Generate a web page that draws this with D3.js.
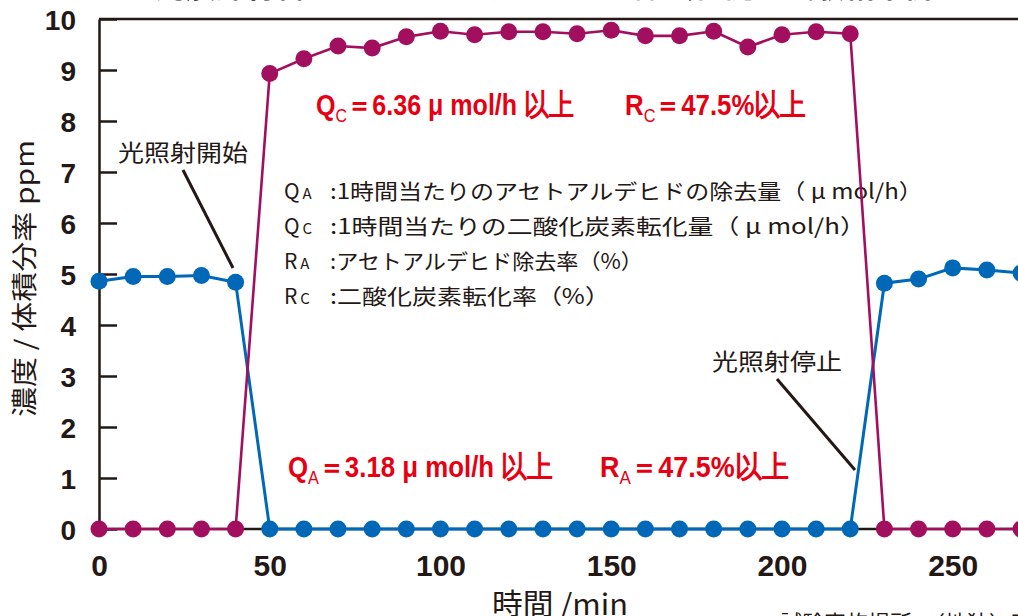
<!DOCTYPE html>
<html>
<head>
<meta charset="utf-8">
<script src="https://cdn.jsdelivr.net/npm/d3@7"></script>
<style>
  body { margin: 0; background: #fff; }
  svg { display: block; }
</style>
</head>
<body>
<svg id="chart"></svg>
<script>
// time axis (min) and the two measured series
const times = [0, 10, 20, 30, 40, 50, 60, 70, 80, 90, 100, 110, 120, 130, 140,
    150, 160, 170, 180, 190, 200, 210, 220, 230, 240, 250, 260, 270];
const acetaldehyde = [4.86, 4.95, 4.95, 4.97, 4.84,
    0, 0, 0, 0, 0, 0, 0, 0, 0, 0, 0, 0, 0, 0, 0, 0, 0, 0,
    4.82, 4.90, 5.12, 5.08, 5.02];
const co2 = [0, 0, 0, 0, 0,
    8.93, 9.22, 9.47, 9.43, 9.65, 9.76, 9.69, 9.75, 9.75, 9.71, 9.78, 9.67, 9.67,
    9.76, 9.45, 9.69, 9.75, 9.71,
    0, 0, 0, 0, 0];
const xTicks = [0, 50, 100, 150, 200, 250];
const yTicks = [0, 1, 2, 3, 4, 5, 6, 7, 8, 9, 10];

const legendRows = [
    { q: 'Q', sub: 'A', text: ':1時間当たりのアセトアルデヒドの除去量（ μ mol/h）' },
    { q: 'Q', sub: 'C', text: ':1時間当たりの二酸化炭素転化量（ μ mol/h）' },
    { q: 'R', sub: 'A', text: ':アセトアルデヒド除去率（%）' },
    { q: 'R', sub: 'C', text: ':二酸化炭素転化率（%）' }
];
const results = [
    { q: 'Q', sub: 'C', text: '＝6.36 μ mol/h 以上' },
    { q: 'R', sub: 'C', text: '＝47.5%以上' },
    { q: 'Q', sub: 'A', text: '＝3.18 μ mol/h 以上' },
    { q: 'R', sub: 'A', text: '＝47.5%以上' }
];

const width = 1018;
const height = 616;
const blue = '#0068b7';
const purple = '#a20f5e';
const red = '#e60012';
const ink = '#231815';
const jp = '"Noto Sans CJK JP", "Noto Sans", sans-serif';
const num = '"Liberation Sans", Arial, sans-serif';

const svg = d3.select('#chart')
    .attr('width', width)
    .attr('height', height);

const x = d3.scaleLinear().domain([0, 270]).range([99, 1021]);
const y = d3.scaleLinear().domain([0, 10]).range([529, 19]);

// squeeze a text group horizontally so it spans the given width
function fit(sel, left, target) {
    const w = sel.node().getBBox().width;
    const k = target / w;
    sel.attr('transform', `translate(${left},0) scale(${k},1)`);
}

// title fragment cut at top
svg.append('text')
    .attr('x', 560).attr('y', -3)
    .attr('text-anchor', 'middle')
    .attr('font-family', jp).attr('font-weight', 'bold')
    .attr('font-size', 30).attr('fill', ink)
    .text('光触媒材料のアセトアルデヒドガス除去性能（試験結果例）');

// frame
svg.append('line')
    .attr('x1', x(0)).attr('x2', width).attr('y1', y(10)).attr('y2', y(10))
    .attr('stroke', ink).attr('stroke-width', 2.5);
svg.append('line')
    .attr('x1', x(0)).attr('x2', width).attr('y1', y(0)).attr('y2', y(0))
    .attr('stroke', ink).attr('stroke-width', 2.5);

const yAxis = svg.append('g')
    .attr('transform', `translate(${x(0)},0)`)
    .call(d3.axisLeft(y).tickValues(yTicks).tickSizeInner(-18).tickSizeOuter(0).tickPadding(23));
yAxis.select('.domain').attr('stroke', ink).attr('stroke-width', 2.5);
yAxis.selectAll('.tick line').attr('stroke', ink).attr('stroke-width', 2.5);
yAxis.selectAll('.tick text')
    .attr('font-family', num).attr('font-weight', 'bold')
    .attr('font-size', 28).attr('fill', ink).attr('dy', '0.38em');

const xAxis = svg.append('g')
    .attr('transform', `translate(0,${y(0)})`)
    .call(d3.axisBottom(x).tickValues(xTicks).tickSize(0).tickPadding(26));
xAxis.select('.domain').remove();
xAxis.selectAll('.tick text')
    .attr('font-family', num).attr('font-weight', 'bold')
    .attr('font-size', 30).attr('fill', ink);

// axis titles
svg.append('text')
    .attr('transform', 'translate(34,417) rotate(-90)')
    .attr('font-family', jp).attr('font-size', 26).attr('fill', ink)
    .attr('textLength', 277).attr('lengthAdjust', 'spacingAndGlyphs')
    .text('濃度 / 体積分率 ppm');

svg.append('text')
    .attr('x', 492).attr('y', 615)
    .attr('font-family', jp).attr('font-size', 29).attr('fill', ink)
    .attr('textLength', 136).attr('lengthAdjust', 'spacingAndGlyphs')
    .text('時間 /min');

svg.append('text')
    .attr('x', 780).attr('y', 631)
    .attr('font-family', jp).attr('font-size', 22).attr('fill', ink)
    .text('試験実施場所：（地独）東京都立産業技術研究センター');

// annotations
svg.append('text')
    .attr('x', 118).attr('y', 161)
    .attr('font-family', jp).attr('font-size', 23).attr('fill', ink)
    .attr('textLength', 130).attr('lengthAdjust', 'spacingAndGlyphs')
    .text('光照射開始');
svg.append('line')
    .attr('x1', 183).attr('y1', 170).attr('x2', 233).attr('y2', 268)
    .attr('stroke', ink).attr('stroke-width', 3);

svg.append('text')
    .attr('x', 712).attr('y', 370)
    .attr('font-family', jp).attr('font-size', 23).attr('fill', ink)
    .attr('textLength', 130).attr('lengthAdjust', 'spacingAndGlyphs')
    .text('光照射停止');
svg.append('line')
    .attr('x1', 777).attr('y1', 379).attr('x2', 855).attr('y2', 470)
    .attr('stroke', ink).attr('stroke-width', 3);

// legend rows
const legendY = [199, 234, 269, 304];
const legendEnd = [923, 866, 643, 610];
legendRows.forEach((d, i) => {
    const t = svg.append('text')
        .attr('x', 284).attr('y', legendY[i])
        .attr('font-family', jp).attr('font-size', 21).attr('fill', ink);
    t.append('tspan').text(d.q);
    t.append('tspan').attr('font-size', 15).attr('dx', 3).text(d.sub);
    const g = svg.append('g');
    g.append('text')
        .attr('x', 0).attr('y', legendY[i])
        .attr('font-family', jp).attr('font-size', 21).attr('fill', ink)
        .text(d.text);
    fit(g, 330, legendEnd[i] - 330);
});

// red result labels
const resX = [[316, 574], [625, 806], [288, 553], [600, 788]];
const resY = [115, 115, 477, 477];
results.forEach((d, i) => {
    const g = svg.append('g');
    const t = g.append('text')
        .attr('x', 0).attr('y', resY[i])
        .attr('font-family', num).attr('font-weight', 'bold')
        .attr('font-size', 30).attr('fill', red);
    t.append('tspan').text(d.q);
    t.append('tspan').attr('font-size', 19).attr('font-weight', 'normal')
        .attr('dy', 7).text(d.sub);
    t.append('tspan').attr('dy', -7).text(d.text);
    fit(g, resX[i][0], resX[i][1] - resX[i][0]);
});

// series
const series = [
    { values: acetaldehyde, color: blue, width: 3 },
    { values: co2, color: purple, width: 2.6 }
];
const line = d3.line()
    .x((d, i) => x(times[i]))
    .y(d => y(d));

series.forEach(s => {
    svg.append('path')
        .datum(s.values)
        .attr('d', line)
        .attr('fill', 'none')
        .attr('stroke', s.color)
        .attr('stroke-width', s.width);
});

series.forEach(s => {
    svg.append('g')
        .selectAll('circle')
        .data(s.values)
        .join('circle')
        .attr('cx', (d, i) => x(times[i]))
        .attr('cy', d => y(d))
        .attr('r', 8.5)
        .attr('fill', s.color);
});
</script>
</body>
</html>
